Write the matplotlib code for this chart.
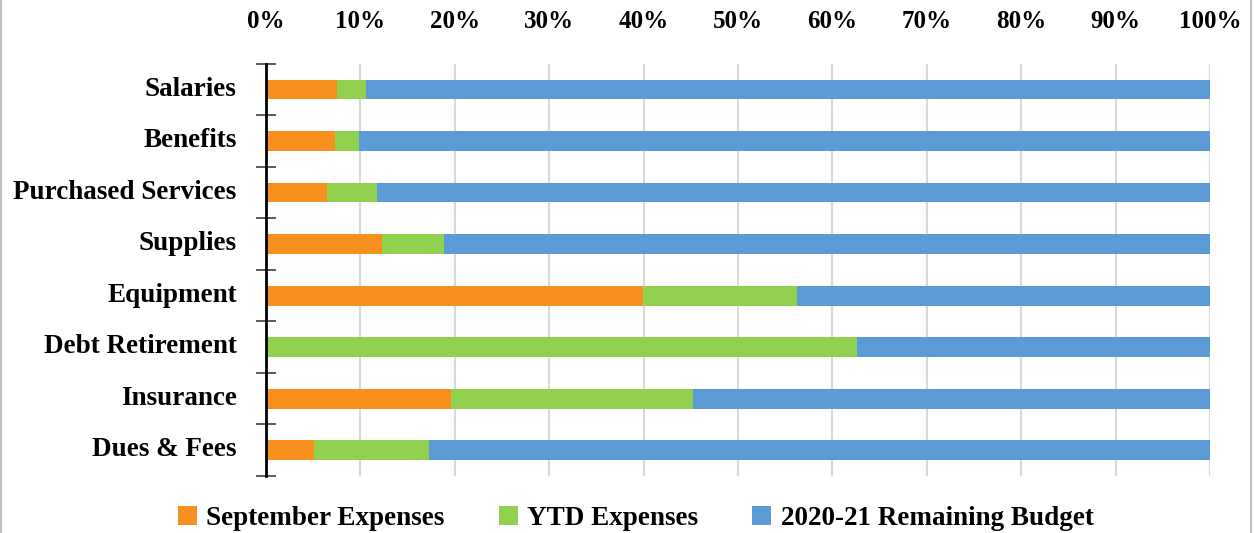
import matplotlib.pyplot as plt
import numpy as np
from matplotlib.lines import Line2D
from matplotlib.transforms import ScaledTranslation

# budget categories (top to bottom) and share of budget, in percent
categories = ['Salaries', 'Benefits', 'Purchased Services', 'Supplies',
              'Equipment', 'Debt Retirement', 'Insurance', 'Dues & Fees']
september = [7.5, 7.3, 6.5, 12.3, 39.9, 0.0, 19.6, 5.1]
ytd = [3.1, 2.55, 5.3, 6.6, 16.3, 62.6, 25.6, 12.2]
remaining = [89.4, 90.15, 88.2, 81.1, 43.8, 37.4, 54.8, 82.7]

series_names = ['September Expenses', 'YTD Expenses', '2020-21 Remaining Budget']
colors = ['#F7901E', '#92D050', '#5B9BD5']

plt.rcParams['font.family'] = ['Liberation Serif', 'DejaVu Serif']
plt.rcParams['font.weight'] = 'bold'

fig = plt.figure(figsize=(12.54, 5.33), dpi=100)
ax = fig.add_axes([0.212, 0.107, 0.753, 0.773])

y = np.arange(len(categories))
left = np.zeros(len(categories))
for vals, name, c in zip([september, ytd, remaining], series_names, colors):
    ax.barh(y, vals, left=left, height=0.38, color=c, label=name, zorder=3)
    left += np.array(vals)

ax.set_xlim(0, 100)
ax.set_ylim(len(categories) - 0.5, -0.5)
ax.set_xticks(np.arange(0, 101, 10))
ax.set_xticklabels([f'{v}%' for v in range(0, 101, 10)])
ax.xaxis.tick_top()
ax.tick_params(axis='x', length=0, labelsize=18, pad=22)
ax.grid(axis='x', color='#D9D9D9', linewidth=1.5, zorder=0)

ax.set_yticks(y)
ax.set_yticklabels(categories)
ax.set_yticks(np.arange(-0.5, len(categories), 1), minor=True)
ax.tick_params(axis='y', which='major', length=0, labelsize=19.5, pad=21)
ax.tick_params(axis='y', which='minor', direction='inout', length=14,
               width=1.2, color='#404040')

for side in ['top', 'right', 'bottom']:
    ax.spines[side].set_visible(False)
ax.spines['left'].set_linewidth(2)
ax.spines['left'].set_zorder(4)

for lab in ax.get_xticklabels():
    lab.set_fontweight('bold')
# category names sit a touch above the bar centres in the original
shift = ScaledTranslation(0, 2.5 / 72, fig.dpi_scale_trans)
for lab in ax.get_yticklabels():
    lab.set_fontweight('bold')
    lab.set_transform(lab.get_transform() + shift)

fig.legend(loc='center', bbox_to_anchor=(0.507, 0.028), ncol=3, frameon=False,
           prop={'size': 19.5, 'weight': 'bold'}, handlelength=0.7,
           handleheight=0.7, handletextpad=0.35, columnspacing=2.0)

# thin grey frame lines at the left and right edges
for xe in (0.001, 0.998):
    fig.add_artist(Line2D([xe, xe], [0, 1], transform=fig.transFigure,
                          color='#BFBFBF', linewidth=1.5))

fig.savefig('out.png', dpi=100)
